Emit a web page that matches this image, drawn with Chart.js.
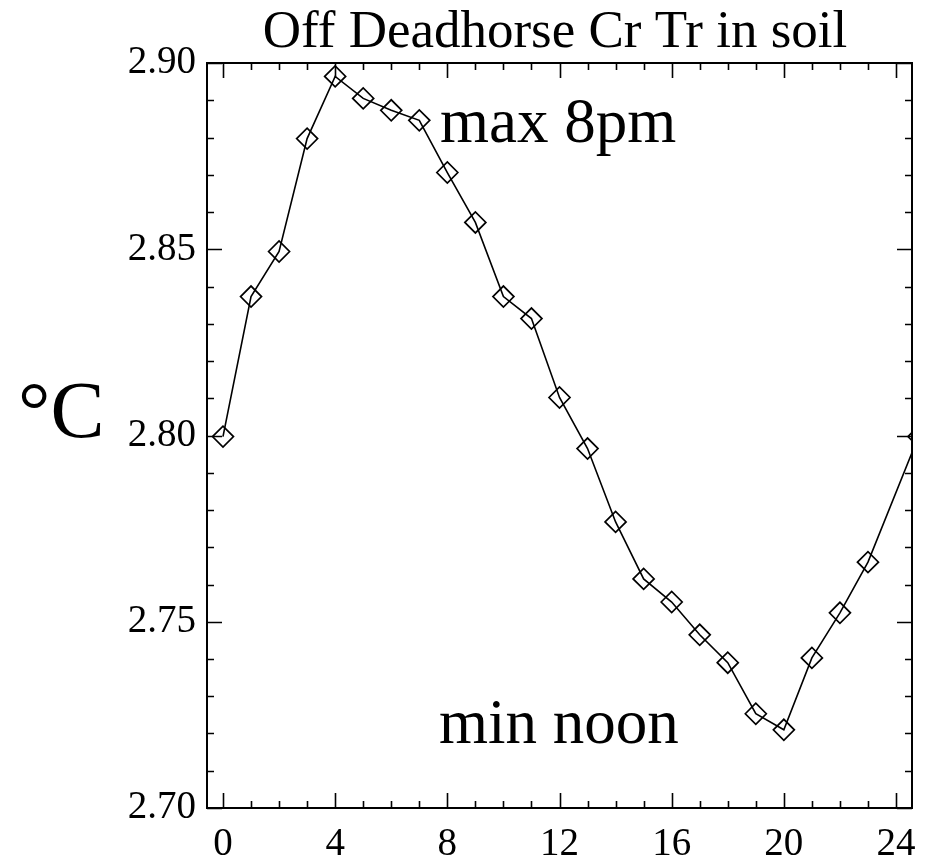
<!DOCTYPE html>
<html>
<head>
<meta charset="utf-8">
<title>Off Deadhorse Cr Tr in soil</title>
<script src="https://cdn.jsdelivr.net/npm/chart.js@4/dist/chart.umd.min.js"></script>
<style>
  html, body { margin: 0; padding: 0; background: #fff; }
  #wrap { width: 932px; height: 866px; }
</style>
</head>
<body>
<div id="wrap"><canvas id="chart" width="932" height="866"></canvas></div>
<script>
// hour of day and soil temperature (deg C)
const hours = [0, 1, 2, 3, 4, 5, 6, 7, 8, 9, 10, 11, 12, 13, 14, 15, 16, 17, 18, 19, 20, 21, 22, 23, 24.8];
const temps = [2.7997, 2.8373, 2.8494, 2.8797, 2.8964, 2.8905, 2.8873, 2.8846, 2.8706, 2.8572,
  2.8373, 2.8314, 2.8102, 2.7965, 2.7768, 2.7615, 2.7553, 2.7465, 2.7390, 2.7253,
  2.7210, 2.7403, 2.7524, 2.7660, 2.7997];

const xTicks = [0, 4, 8, 12, 16, 20, 24];
const xMinor = [0, 1, 2, 3, 4, 5, 6, 7, 8, 9, 10, 11, 12, 13, 14, 15, 16, 17, 18, 19, 20, 21, 22, 23, 24];
const yTicks = [2.70, 2.75, 2.80, 2.85, 2.90];
const yMinor = [2.70, 2.71, 2.72, 2.73, 2.74, 2.75, 2.76, 2.77, 2.78, 2.79, 2.80,
  2.81, 2.82, 2.83, 2.84, 2.85, 2.86, 2.87, 2.88, 2.89, 2.90];

const titleText = 'Off Deadhorse Cr Tr in soil';
const yUnit = '°C';
const notes = [
  { text: 'max 8pm', x: 440, y: 142 },
  { text: 'min noon', x: 439, y: 743 }
];

const SERIF = '"Liberation Serif", "DejaVu Serif", serif';

// box, inward ticks on all four sides, and the text around the plot
const frame = {
  id: 'frame',
  afterDraw(chart) {
    const ctx = chart.ctx;
    const a = chart.chartArea;
    const xs = chart.scales.x;
    const ys = chart.scales.y;
    ctx.save();
    ctx.strokeStyle = '#000';
    ctx.lineWidth = 1.6;
    ctx.beginPath();

    xMinor.forEach(v => {
      const px = Math.round(xs.getPixelForValue(v)) + 0.5;
      const len = xTicks.includes(v) ? 15 : 7;
      ctx.moveTo(px, a.bottom); ctx.lineTo(px, a.bottom - len);
      ctx.moveTo(px, a.top); ctx.lineTo(px, a.top + len);
    });
    yMinor.forEach(v => {
      const py = Math.round(ys.getPixelForValue(v)) + 0.5;
      const major = yTicks.some(t => Math.abs(t - v) < 1e-6);
      const len = major ? 15 : 7;
      ctx.moveTo(a.left, py); ctx.lineTo(a.left + len, py);
      ctx.moveTo(a.right, py); ctx.lineTo(a.right - len, py);
    });
    ctx.stroke();

    ctx.lineWidth = 2;
    ctx.strokeRect(a.left, a.top, a.right - a.left, a.bottom - a.top);

    ctx.fillStyle = '#000';
    ctx.textBaseline = 'alphabetic';
    ctx.font = '53px ' + SERIF;
    ctx.textAlign = 'center';
    ctx.fillText(titleText, 555, 47);

    ctx.textAlign = 'left';
    ctx.font = '81px ' + SERIF;
    ctx.fillText(yUnit, 18, 437);

    ctx.font = '63px ' + SERIF;
    notes.forEach(n => ctx.fillText(n.text, n.x, n.y));
    ctx.restore();
  }
};

new Chart(document.getElementById('chart'), {
  type: 'line',
  data: {
    datasets: [{
      data: hours.map((h, i) => ({ x: h, y: temps[i] })),
      borderColor: '#000',
      borderWidth: 1.6,
      pointStyle: 'rectRot',
      pointRadius: 10.5,
      pointBorderWidth: 1.7,
      pointBorderColor: '#000',
      pointBackgroundColor: 'rgba(0,0,0,0)',
      tension: 0
    }]
  },
  options: {
    responsive: false,
    animation: false,
    events: [],
    layout: { padding: { top: 63, right: 20, left: 0, bottom: 0 } },
    plugins: {
      legend: { display: false },
      tooltip: { enabled: false },
      title: { display: false }
    },
    scales: {
      x: {
        type: 'linear',
        min: -0.57,
        max: 24.57,
        border: { display: false },
        grid: { display: false, drawTicks: false },
        afterBuildTicks: s => { s.ticks = xTicks.map(v => ({ value: v })); },
        afterFit: s => { s.height = 58; },
        ticks: {
          color: '#000',
          padding: 13,
          maxRotation: 0,
          autoSkip: false,
          font: { family: SERIF, size: 39 },
          callback: v => String(v)
        }
      },
      y: {
        min: 2.70,
        max: 2.90,
        border: { display: false },
        grid: { display: false, drawTicks: false },
        afterBuildTicks: s => { s.ticks = yTicks.map(v => ({ value: v })); },
        afterFit: s => { s.width = 207; },
        ticks: {
          color: '#000',
          padding: 11,
          autoSkip: false,
          font: { family: SERIF, size: 39 },
          callback: v => v.toFixed(2)
        }
      }
    }
  },
  plugins: [frame]
});
</script>
</body>
</html>
